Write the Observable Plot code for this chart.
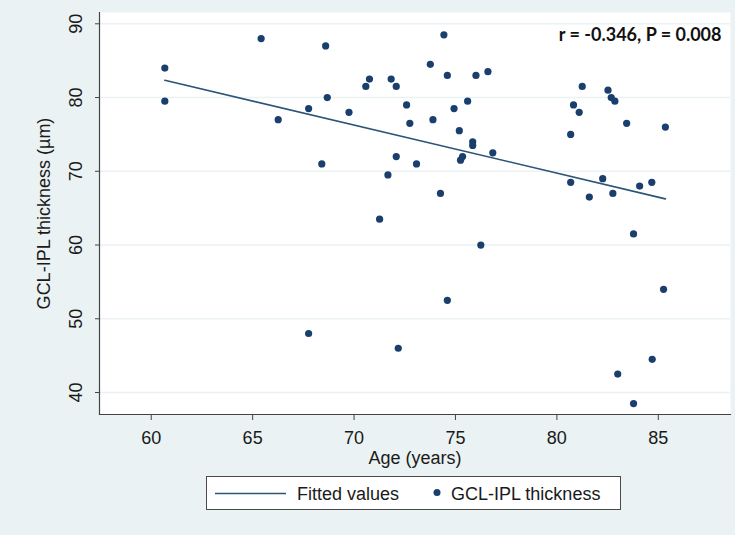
<!DOCTYPE html>
<html>
<head>
<meta charset="utf-8">
<script src="https://cdn.jsdelivr.net/npm/d3@7"></script>
<script src="https://cdn.jsdelivr.net/npm/@observablehq/plot@0.6"></script>
<style>
  html, body { margin: 0; padding: 0; background: #eaf2f3; }
  #wrap { position: relative; width: 735px; height: 535px; background: #eaf2f3; overflow: hidden;
          font-family: "Liberation Sans", Arial, sans-serif; color: #1a1a1a; }
  #chart svg { display: block; }
  #legend { position: absolute; left: 206px; top: 476px; width: 415px; height: 34px;
            background: #fff; border: 1.5px solid #4a4a4a; box-sizing: border-box; }
  #legend svg { display: block; }
</style>
</head>
<body>
<div id="wrap">
  <div id="chart"></div>
  <div id="legend"></div>
</div>
<script>
// ---- data ----
const age = [60.67, 60.67, 65.42, 66.26, 67.76, 67.76, 68.41, 68.6, 68.68, 69.75,
             70.58, 70.76, 71.26, 71.67, 71.83, 72.08, 72.08, 72.18, 72.59, 72.75,
             73.08, 73.76, 73.89, 74.26, 74.43, 74.6, 74.6, 74.93, 75.19, 75.25,
             75.35, 75.6, 75.85, 75.85, 76.01, 76.25, 76.6, 76.84, 80.68, 80.68,
             80.82, 81.1, 81.25, 81.6, 82.26, 82.52, 82.68, 82.76, 82.86, 83.0,
             83.44, 83.78, 83.78, 84.08, 84.68, 84.7, 85.26, 85.35];
const thickness = [84, 79.5, 88, 77, 78.5, 48, 71, 87, 80, 78,
                   81.5, 82.5, 63.5, 69.5, 82.5, 81.5, 72, 46, 79, 76.5,
                   71, 84.5, 77, 67, 88.5, 83, 52.5, 78.5, 75.5, 71.5,
                   72, 79.5, 74, 73.5, 83, 60, 83.5, 72.5, 75, 68.5,
                   79, 78, 81.5, 66.5, 69, 81, 80, 67, 79.5, 42.5,
                   76.5, 61.5, 38.5, 68, 68.5, 44.5, 54, 76];
const xTicks = [60, 65, 70, 75, 80, 85];
const yTicks = [40, 50, 60, 70, 80, 90];
const xLabel = "Age (years)";
const yLabel = "GCL-IPL thickness (\u00b5m)";
const annotation = ["r = -0.346, P = 0.008"];
const legendLabels = ["Fitted values", "GCL-IPL thickness"];

const data = age.map((a, i) => ({age: a, thickness: thickness[i]}));

const navy = "#1a3f6d";
const lineColor = "#2a5478";
const bg = "#eaf2f3";

const chart = Plot.plot({
  width: 735,
  height: 470,
  marginLeft: 99,
  marginRight: 5,
  marginTop: 12,
  marginBottom: 56,
  style: { background: "transparent", fontFamily: "'Liberation Sans', Arial, sans-serif", color: "#1a1a1a" },
  x: { domain: [57.45, 88.56] },
  y: { domain: [37.02, 91.53] },
  marks: [
    Plot.frame({ fill: "white", stroke: "none" }),
    Plot.ruleY(yTicks, { stroke: bg, strokeWidth: 1.6 }),
    Plot.frame({ anchor: "left", stroke: "#444", strokeWidth: 1.2 }),
    Plot.frame({ anchor: "bottom", stroke: "#444", strokeWidth: 1.2 }),
    Plot.axisX({ ticks: xTicks, tickSize: 6, tickPadding: 11, fontSize: 18, stroke: "#444", label: null, tickFormat: d => String(d) }),
    Plot.axisY({ ticks: yTicks, tickSize: 4, tickFormat: () => "", label: null, stroke: "#444" }),
    Plot.text(yTicks, { y: d => d, text: d => String(d), frameAnchor: "left", textAnchor: "middle", lineAnchor: "middle",
                        dx: -23, rotate: -90, fontSize: 18, fill: "#1a1a1a" }),
    Plot.text([xLabel], { text: d => d, frameAnchor: "bottom", lineAnchor: "middle", dy: 44, fontSize: 18, fill: "#1a1a1a" }),
    Plot.text([yLabel], { text: d => d, frameAnchor: "left", textAnchor: "middle", lineAnchor: "middle",
                          dx: -55, rotate: -90, fontSize: 18, fill: "#1a1a1a" }),
    Plot.linearRegressionY(data, { x: "age", y: "thickness", ci: 0, stroke: lineColor, strokeWidth: 1.6 }),
    Plot.dot(data, { x: "age", y: "thickness", r: 3.6, fill: navy, stroke: "none" }),
    Plot.text(annotation, { text: d => d, frameAnchor: "top-right", textAnchor: "end", lineAnchor: "middle", dx: -9, dy: 23,
                            fontSize: 18, fontWeight: "bold", fontFamily: "Lato, 'Liberation Sans', sans-serif", fill: "#111" })
  ]
});
document.getElementById("chart").appendChild(chart);

// ---- legend (below the plot SVG) ----
const lg = d3.select("#legend").append("svg").attr("width", 412).attr("height", 31);
lg.append("line").attr("x1", 8).attr("x2", 79).attr("y1", 16.5).attr("y2", 16.5)
  .attr("stroke", lineColor).attr("stroke-width", 1.6);
lg.append("text").attr("x", 90).attr("y", 16.5).attr("dy", "0.35em")
  .attr("font-size", 18).attr("fill", "#1a1a1a").text(legendLabels[0]);
lg.append("circle").attr("cx", 230).attr("cy", 15.5).attr("r", 3.5).attr("fill", navy);
lg.append("text").attr("x", 244).attr("y", 16.5).attr("dy", "0.35em")
  .attr("font-size", 18).attr("fill", "#1a1a1a").text(legendLabels[1]);
</script>
</body>
</html>
